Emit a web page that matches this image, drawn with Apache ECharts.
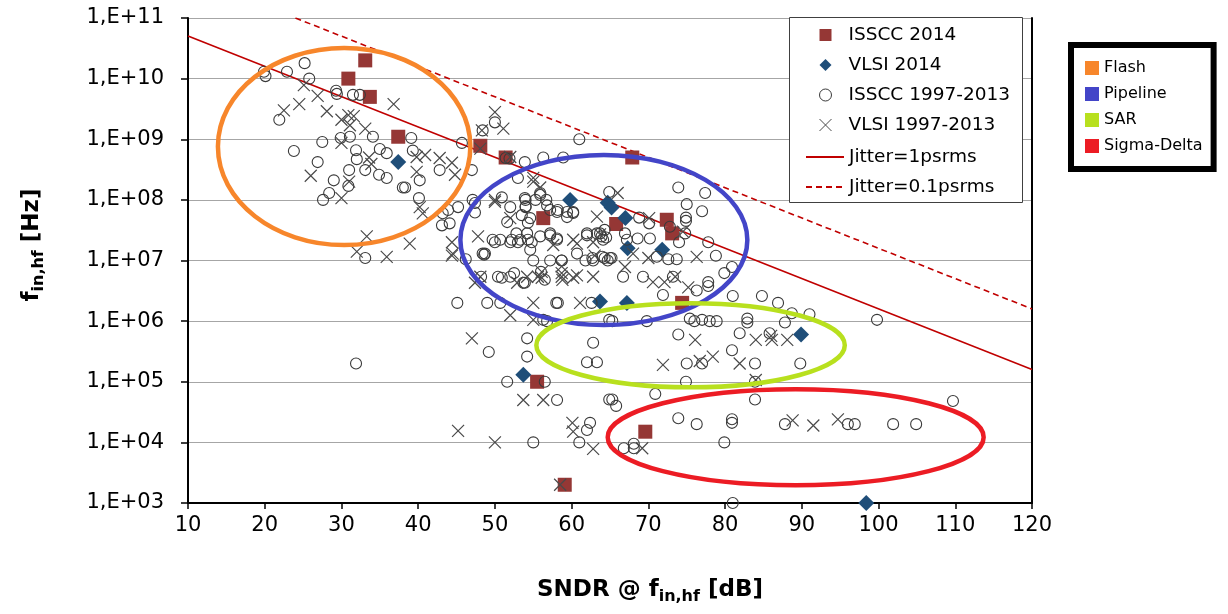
<!DOCTYPE html>
<html><head><meta charset="utf-8">
<script src="https://cdn.jsdelivr.net/npm/echarts@6/dist/echarts.min.js"></script>
<style>html,body{margin:0;padding:0;background:#fff}#c{width:1228px;height:614px}</style>
</head><body><div id="c"></div>
<script>
// ---------- data ----------
const xMin = 10, xMax = 120, xInterval = 10;
const yMin = 1e3, yMax = 1e11;
const yTickLabels = ['1,E+03','1,E+04','1,E+05','1,E+06','1,E+07','1,E+08','1,E+09','1,E+10','1,E+11'];

const isscc2014 = [[33.1,2e10],[30.9,1e10],[33.7,5e9],[37.4,1.1e9],[48.1,7.8e8],[51.4,5e8],[67.9,5e8],[56.3,5e7],[65.8,4e7],[72.4,4.7e7],[73.1,2.8e7],[74.4,2e6],[55.5,1e5],[69.6,1.5e4],[59.1,2e3]];

const vlsi2014 = [[37.4,4.2e8],[59.8,1e8],[64.7,9e7],[65.2,7.5e7],[67.0,5e7],[67.3,1.6e7],[71.8,1.5e7],[63.7,2.1e6],[67.2,2e6],[89.9,6e5],[53.7,1.3e5],[98.4,1e3]];

const isscc9713 = [
[19.9,1.3e10],[20.1,1.1e10],[22.9,1.3e10],[25.2,1.8e10],[25.8,1.0e10],[29.3,6.3e9],[29.4,5.6e9],[31.5,5.4e9],[32.4,5.4e9],[21.9,2.1e9],[27.5,9e8],[29.9,1.05e9],[31.1,1.1e9],[34.1,1.1e9],[23.8,6.4e8],[31.9,6.6e8],[32.0,4.7e8],[35.0,6.9e8],[35.9,5.9e8],[26.9,4.2e8],[31.0,3.1e8],[33.1,3.1e8],[29.0,2.1e8],[34.9,2.6e8],[35.9,2.3e8],[30.9,1.7e8],[28.4,1.3e8],[27.6,1.0e8],[38.0,1.6e8],[33.1,1.1e7],
[39.1,1.05e9],[39.3,6.5e8],[40.2,2.1e8],[38.3,1.6e8],[42.8,3.1e8],[45.7,8.7e8],[47.0,3.1e8],[50.0,1.9e9],[48.4,1.4e9],[51.4,4.9e8],[51.9,4.8e8],[53.9,4.2e8],[56.3,5e8],[58.9,5e8],[61.0,1e9],[53.0,2.3e8],[40.1,1.07e8],[43.2,6e7],[44.1,4.1e7],[43.1,3.8e7],[45.2,7.6e7],[47.4,8.9e7],[47.4,6.2e7],[50.9,1.1e8],[53.9,1.07e8],[54.0,7.6e7],[55.9,1.2e8],[56.8,8.1e7],[58.1,6.3e7],[59.4,6.3e7],[60.2,6.3e7],[51.6,4.3e7],[54.3,4.2e7],[54.2,2.8e7],[52.0,2e7],[53.0,2e7],[54.8,2e7],[50.0,2e7],[48.7,1.3e7],[57.2,2.8e7],[58.1,2.2e7],[62.0,2.8e7],[63.7,2.8e7],[64.9,1.35e8],
[73.9,1.6e8],[77.4,1.3e8],[75.0,8.5e7],[77.0,6.5e7],[74.9,5.1e7],[74.9,4.5e7],[68.8,5.1e7],[70.1,4.1e7],[72.8,3.6e7],[74.0,2e7],[74.8,2.8e7],[77.8,2e7],[78.8,1.2e7],[80.9,7.8e6],[79.9,6.2e6],[66.95,2.8e7],[67.2,2.2e7],[68.6,2.3e7],[70.2,2.3e7],[71.1,1.15e7],[72.6,1.05e7],[73.7,1.05e7],[64.3,1.1e7],[65.2,1.1e7],[66.7,5.4e6],[69.3,5.4e6],[73.2,5.4e6],[77.8,4.4e6],[77.8,3.8e6],[76.3,3.2e6],[71.9,2.7e6],[81.0,2.6e6],[84.8,2.6e6],[64.3,3.2e7],[64.1,2.2e7],
[43.9,6.8e7],[47.1,1e8],[49.7,2.2e7],[48.4,1.3e7],[52.0,7.6e7],[54.0,1e8],[55.3,1e8],[56.7,1e8],[55.9,1.3e8],[54.0,7.8e7],[57.2,6.8e7],[58.2,6.8e7],[53.5,5.6e7],[54.6,5e7],[59.4,5.2e7],[60.2,6.1e7],[52.2,2.2e7],[53.3,2.2e7],[54.3,2.2e7],[55.9,2.5e7],[57.2,2.6e7],[58.1,2.3e7],[52.8,2.8e7],[54.6,1.5e7],[57.2,1e7],[58.7,1e7],[60.7,1.3e7],[62.0,2.6e7],[63.3,2.8e7],[63.9,2.5e7],[64.5,2.4e7],[64.0,1.15e7],[62.7,1.1e7],[65.0,1.1e7],[50.4,5.4e6],[52.0,5.4e6],[53.7,4.3e6],[50.7,2.2e7],[56.0,6.5e6],[56.5,4.8e6],
[48.6,1.25e7],[46.2,1.05e7],[45.1,2e6],[49.0,2e6],[50.7,2e6],[48.2,5.4e6],[50.9,5.2e6],[52.5,6.2e6],[53.9,4.3e6],[58.2,2e6],[62.6,2e6],[64.9,1.05e6],[56.3,1.05e6],[56.8,1.0e6],[54.2,5.2e5],[49.2,3.1e5],[54.2,2.6e5],[62.8,4.4e5],[62.0,2.1e5],[63.3,2.1e5],[51.6,1e5],[56.5,1e5],[58.1,5e4],[64.9,5.1e4],[62.4,2.1e4],[62.0,1.6e4],[55.0,1e4],[61.0,1e4],[58.7,1e7],[62.8,1e7],[64.7,1e7],[55.0,1e7],[61.8,1e7],[58.0,2e6],
[86.9,2e6],[88.7,1.35e6],[65.3,1e6],[69.8,1e6],[75.4,1.1e6],[76.0,1e6],[77.0,1.05e6],[78.0,1e6],[78.9,1e6],[82.9,1.1e6],[82.9,9.5e5],[87.8,9.5e5],[73.9,6e5],[81.9,6.3e5],[85.8,6.3e5],[80.9,3.3e5],[75.0,2e5],[77.0,2e5],[83.9,2e5],[89.8,2e5],[74.9,1e5],[83.9,1e5],[83.9,5.1e4],[70.9,6.3e4],[65.3,5.1e4],[65.8,4e4],[73.9,2.5e4],[76.3,2e4],[80.9,2.4e4],[80.9,2.1e4],[87.8,2e4],[79.9,1e4],[66.8,8e3],[68.1,8e3],[68.1,9.5e3],[81.0,1e3],
[99.8,1.05e6],[109.7,4.8e4],[96.0,2e4],[96.9,2e4],[101.9,2e4],[104.9,2e4],[91.0,1.3e6],[31.9,2e5]
];

const vlsi9713 = [
[25.1,7.8e9],[26.9,5.2e9],[24.5,3.8e9],[22.5,3e9],[28.1,2.9e9],[30.0,2.1e9],[30.9,2.5e9],[31.6,2.4e9],[31.1,1.7e9],[33.1,1.5e9],[36.8,3.8e9],[30.0,8.7e8],[33.6,5e8],[33.9,3.9e8],[26.0,2.5e8],[31.0,2e8],[30.0,1.07e8],[33.3,2.5e7],[32.0,1.4e7],[35.9,1.15e7],
[50.0,2.8e9],[51.1,1.5e9],[48.3,1.4e9],[48.1,7e8],[39.8,5.1e8],[40.9,5.5e8],[42.8,4.9e8],[44.4,4.1e8],[44.8,2.6e8],[39.8,2.9e8],[52.0,5.1e8],[55.0,2.3e8],[55.9,1.6e8],[40.2,7.6e7],[40.6,6e7],[50.0,9.3e7],[52.0,5e7],[47.8,2.5e7],[38.9,1.9e7],[44.4,2e7],[44.5,1.3e7],[63.3,5.3e7],[60.2,2.2e7],[62.8,2e7],[57.6,1.8e7],
[66.0,1.3e8],[70.1,5e7],[74.5,3e7],[63.7,2.7e7],[68.0,1.3e7],[70.0,1.1e7],[66.95,7.8e6],[76.3,1.15e7],[70.6,4.4e6],[72.1,4.4e6],[73.5,5.4e6],[75.2,3.6e6],
[55.0,2e8],[50.0,1e8],[60.7,1.9e7],[56.1,6.5e6],[54.2,5.4e6],[55.6,5.4e6],[58.7,6.2e6],[58.8,4.8e6],[60.7,5.7e6],[48.1,5.4e6],[63.0,1.2e7],
[44.4,1.2e7],[47.4,4.3e6],[52.9,4.3e6],[56.1,5.2e6],[58.7,5.4e6],[60.2,5.2e6],[62.8,5.4e6],[58.7,8e6],[55.0,2e6],[61.1,2e6],[52.0,1.25e6],[55.0,1.05e6],[47.0,5.2e5],[53.7,5e4],[56.3,5e4],[45.2,1.55e4],[50.0,1e4],[60.1,2.1e4],[60.2,1.5e4],[62.8,7.8e3],[58.5,2e3],
[76.1,4.9e5],[84.0,4.9e5],[86.1,4.9e5],[88.1,4.9e5],[86.0,5.7e5],[71.9,1.9e5],[76.7,2.2e5],[78.4,2.6e5],[81.9,2e5],[84.0,1.07e5],[88.8,2.3e4],[91.5,1.9e4],[69.2,8e3],[94.7,2.4e4]
];

const jitter1ps = [[10,5.03e10],[120,1.59e5]];
const jitter01ps = [[24.0,1e11],[120,1.59e6]];

const architectures = ['Flash','Pipeline','SAR','Sigma-Delta'];
const archSndrRange = [[13.9,46.8],[45.5,82.9],[55.4,95.6],[64.7,113.7]];
const archFreqRange = [[1.8e7,3.2e10],[8.6e5,5.5e8],[8.1e4,1.98e6],[1.97e3,7.55e4]];

// ---------- styles ----------
const FONT = 'DejaVu Sans';
const archColors = ['#F7862B','#4345C8','#B8E01E','#EC1C24'];

const chart = echarts.init(document.getElementById('c'), null, {renderer:'canvas'});

const ellipseSeries = architectures.map((name, i) => ({
  type:'custom', name, coordinateSystem:'cartesian2d', silent:true, z:3,
  itemStyle:{color:archColors[i]},
  data:[[archSndrRange[i][0], archSndrRange[i][1], archFreqRange[i][0], archFreqRange[i][1]]],
  encode:{x:[0,1], y:[2,3]},
  renderItem:(params, api) => {
    const p0 = api.coord([api.value(0), api.value(3)]);
    const p1 = api.coord([api.value(1), api.value(2)]);
    return {type:'ellipse',
      shape:{cx:(p0[0]+p1[0])/2, cy:(p0[1]+p1[1])/2, rx:Math.abs(p1[0]-p0[0])/2, ry:Math.abs(p1[1]-p0[1])/2},
      style:{fill:'none', stroke:archColors[i], lineWidth:4.5}};
  }
}));

const crossPath = 'path://M0,0L10,10M0,10L10,0';

chart.setOption({
  animation:false,
  backgroundColor:'#fff',
  grid:{left:188, right:196, top:18, bottom:111, containLabel:false},
  xAxis:{type:'value', min:xMin, max:xMax, interval:xInterval,
    axisLine:{onZero:false, lineStyle:{color:'#000', width:2}},
    axisTick:{show:true, inside:false, length:6, lineStyle:{color:'#000', width:1.5}},
    axisLabel:{color:'#000', fontFamily:FONT, fontSize:21, margin:12},
    splitLine:{show:false}},
  yAxis:[{type:'log', logBase:10, min:yMin, max:yMax, splitNumber:8,
    axisLine:{onZero:false, lineStyle:{color:'#000', width:2}},
    axisTick:{show:true, inside:false, length:7, lineStyle:{color:'#000', width:1.5}},
    axisLabel:{color:'#000', fontFamily:FONT, fontSize:21, margin:24,
      formatter:(v) => yTickLabels[Math.round(Math.log10(v)) - 3]},
    splitLine:{show:true, lineStyle:{color:'#A6A6A6', width:1}}},
   {type:'value', position:'right', min:0, max:1,
    axisLine:{show:true, lineStyle:{color:'#000', width:2}},
    axisTick:{show:false}, axisLabel:{show:false}, splitLine:{show:false}}],
  legend:[
    {data:['ISSCC 2014','VLSI 2014','ISSCC 1997-2013','VLSI 1997-2013'], orient:'vertical',
      left:814, top:20, itemWidth:12, itemHeight:12, itemGap:10, z:6,
      itemStyle:{borderWidth:1},
      textStyle:{color:'#000', fontFamily:FONT, fontSize:18.5, lineHeight:20, padding:[0,0,0,12]}},
    {data:['Jitter=1psrms','Jitter=0.1psrms'], orient:'vertical',
      left:800, top:142, itemWidth:38, itemHeight:12, itemGap:10, z:6,
      itemStyle:{opacity:0},
      textStyle:{color:'#000', fontFamily:FONT, fontSize:18.5, lineHeight:20}},
    {data:architectures, orient:'vertical', icon:'rect',
      left:1071, top:45, padding:[15,11,15,14], itemWidth:14, itemHeight:14, itemGap:10,
      borderColor:'#000', borderWidth:6, backgroundColor:'#fff',
      textStyle:{color:'#000', fontFamily:FONT, fontSize:16, lineHeight:16}}
  ],
  graphic:[
    {type:'rect', left:789, top:17, z:5, shape:{width:233, height:185},
      style:{fill:'#fff', stroke:'#404040', lineWidth:1}},
    {type:'text', x:650, y:590, z:10,
      style:{text:'{b|SNDR @ f}{s|in,hf}{b| [dB]}', align:'center', verticalAlign:'middle',
        textAlign:'center', textVerticalAlign:'middle',
        rich:{b:{fontFamily:FONT, fontWeight:'bold', fontSize:23, lineHeight:30, fill:'#000', color:'#000'},
              s:{fontFamily:FONT, fontWeight:'bold', fontSize:16, lineHeight:16, verticalAlign:'bottom', fill:'#000', color:'#000'}}}},
    {type:'text', x:32, y:245, rotation:Math.PI/2, z:10,
      style:{text:'{b|f}{s|in,hf}{b| [Hz]}', align:'center', verticalAlign:'middle',
        textAlign:'center', textVerticalAlign:'middle',
        rich:{b:{fontFamily:FONT, fontWeight:'bold', fontSize:23, lineHeight:30, fill:'#000', color:'#000'},
              s:{fontFamily:FONT, fontWeight:'bold', fontSize:16, lineHeight:16, verticalAlign:'bottom', fill:'#000', color:'#000'}}}}
  ],
  series:[
    {type:'scatter', name:'ISSCC 2014', data:isscc2014, symbol:'rect', symbolSize:14, z:2,
      itemStyle:{color:'#953735', opacity:1}},
    {type:'scatter', name:'VLSI 2014', data:vlsi2014, symbol:'diamond', symbolSize:16, z:2,
      itemStyle:{color:'#1F4E79', opacity:1}},
    {type:'scatter', name:'ISSCC 1997-2013', data:isscc9713, symbol:'circle', symbolSize:11, z:2,
      itemStyle:{color:'rgba(0,0,0,0)', borderColor:'#3A3A3A', borderWidth:1.1, opacity:1}},
    {type:'scatter', name:'VLSI 1997-2013', data:vlsi9713, symbol:crossPath, symbolSize:12, z:2,
      itemStyle:{color:'rgba(0,0,0,0)', borderColor:'#4A4A4A', borderWidth:1.2, opacity:1}},
    {type:'line', name:'Jitter=1psrms', data:jitter1ps, symbol:'none', z:2,
      lineStyle:{color:'#C00000', width:1.6}, itemStyle:{color:'#C00000'}},
    {type:'line', name:'Jitter=0.1psrms', data:jitter01ps, symbol:'none', z:2,
      lineStyle:{color:'#C00000', width:1.6, type:[6,4]}, itemStyle:{color:'#C00000'}},
    ...ellipseSeries
  ]
});
</script></body></html>
